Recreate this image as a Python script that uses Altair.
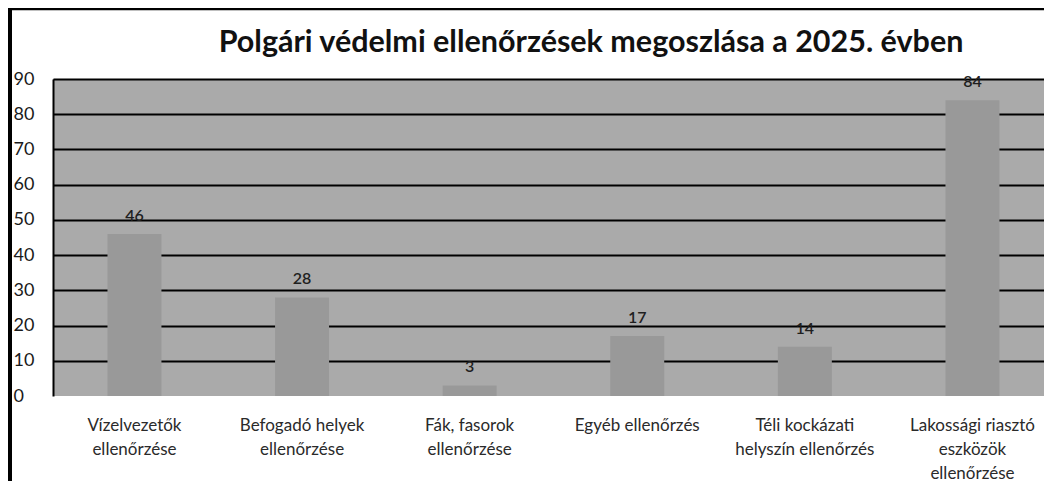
import altair as alt
import pandas as pd

TITLE = "Polgári védelmi ellenőrzések megoszlása a 2025. évben"
categories = [
    "Vízelvezetők\nellenőrzése",
    "Befogadó helyek\nellenőrzése",
    "Fák, fasorok\nellenőrzése",
    "Egyéb ellenőrzés",
    "Téli kockázati\nhelyszín ellenőrzés",
    "Lakossági riasztó\neszközök\nellenőrzése",
]
values = [46, 28, 3, 17, 14, 84]
y_ticks = [0, 10, 20, 30, 40, 50, 60, 70, 80, 90]

df = pd.DataFrame({"cat": categories, "val": values})
FONT = "Lato"

x_scale = alt.Scale(paddingInner=0.678, paddingOuter=0.2955, align=0.55)
x_axis = alt.Axis(
    labelAngle=0,
    labelExpr="split(datum.label, '\\n')",
    labelFont=FONT,
    labelFontSize=17,
    labelColor="#2a2a2a",
    labelLineHeight=24,
    labelPadding=21,
    labelOverlap=False,
    ticks=False,
    domain=False,
    grid=False,
)
y_scale = alt.Scale(domain=[0, 90], nice=False, zero=True)
y_axis = alt.Axis(
    values=y_ticks,
    tickCount=10,
    labelFont=FONT,
    labelFontSize=18,
    labelColor="#1a1a1a",
    labelAlign="left",
    labelPadding=40,
    labelOverlap=False,
    ticks=False,
    tickSize=0,
    domain=True,
    domainColor="#000000",
    domainWidth=2,
    grid=True,
    gridColor={"condition": {"test": "datum.value === 0", "value": None}, "value": "#000000"},
    gridWidth=2,
    gridOpacity=1,
)

x_enc = alt.X("cat:N", sort=None, title=None, scale=x_scale, axis=x_axis)
y_enc = alt.Y("val:Q", title=None, scale=y_scale, axis=y_axis)

base = alt.Chart(df)
bars = base.mark_bar(color="#999999").encode(x=x_enc, y=y_enc)
labels = base.mark_text(
    font=FONT, fontSize=16, fontWeight=600, color="#1f1f1f", baseline="alphabetic", dy=-13
).encode(x=x_enc, y=y_enc, text="val:Q")

one = alt.Chart(pd.DataFrame({"k": [0]}))
left_border = one.mark_rule(color="#000000", strokeWidth=4).encode(
    x=alt.value(-43), y=alt.value(-71), y2=alt.value(410)
)
top_border = one.mark_rule(color="#000000", strokeWidth=2.5).encode(
    x=alt.value(-45), x2=alt.value(1000), y=alt.value(-70)
)
title = one.mark_text(
    text=TITLE, font=FONT, fontSize=30.5, fontWeight="bold", color="#111111",
    align="center", baseline="alphabetic"
).encode(x=alt.value(538), y=alt.value(-27))

chart = alt.layer(bars, labels, left_border, top_border, title).properties(
    width=991,
    height=317,
    autosize=alt.AutoSizeParams(type="none"),
    padding={"left": 45, "top": 71, "right": 0, "bottom": 85},
    background="#ffffff",
).configure_view(fill="#aaaaaa", stroke=None)

chart.save("out.html", embed_options={"renderer": "svg", "actions": False})
